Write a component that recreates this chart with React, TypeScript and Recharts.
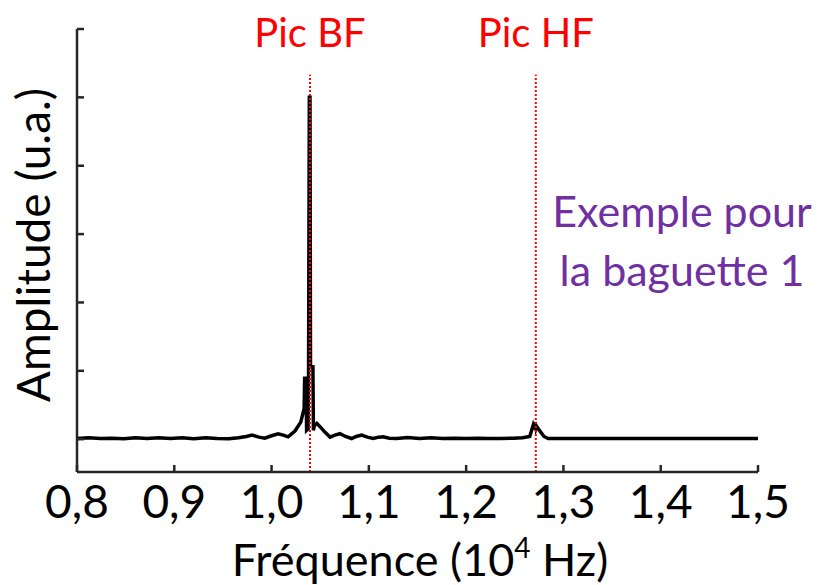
import { LineChart, Line, XAxis, YAxis, ReferenceLine } from 'recharts'

// Fréquence en 10^4 Hz
const freqs = [
  0.8, 0.812, 0.824, 0.836, 0.848, 0.86, 0.872, 0.884, 0.896, 0.908, 0.92, 0.932, 0.944, 0.956,
  0.966, 0.974, 0.98, 0.987, 0.993, 1.0, 1.0067, 1.012, 1.017, 1.024, 1.03, 1.0335, 1.034,
  1.0355, 1.036, 1.0375, 1.038, 1.0388, 1.0395, 1.04, 1.0425, 1.043, 1.044, 1.0465, 1.05,
  1.055, 1.0601, 1.065, 1.0703, 1.076, 1.0823, 1.087, 1.0926, 1.0985, 1.1045, 1.11, 1.1148,
  1.121, 1.1285, 1.14, 1.152, 1.164, 1.176, 1.188, 1.2, 1.212, 1.224, 1.236, 1.248, 1.258,
  1.2654, 1.2688, 1.27, 1.2709, 1.272, 1.2729, 1.2764, 1.28, 1.2842, 1.295, 1.32, 1.35, 1.38,
  1.41, 1.44, 1.47, 1.5,
]

// Amplitude (u.a.)
const amplitudes = [
  0.01, 0.02, 0.01, 0.015, 0.005, 0.02, 0.01, 0.02, 0.01, 0.02, 0.005, 0.02, 0.01, 0.005,
  0.02, 0.04, 0.06, 0.03, 0.015, 0.05, 0.08, 0.06, 0.035, 0.12, 0.25, 0.45, 0.89,
  0.89, 0.13, 0.15, 0.89, 5.0, 5.0, 1.06, 1.06, 0.13, 0.2, 0.23, 0.18,
  0.1, 0.03, 0.06, 0.08, 0.04, 0.01, 0.04, 0.06, 0.03, 0.01, 0.03, 0.035,
  0.015, 0.01, 0.025, 0.01, 0.02, 0.01, 0.015, 0.01, 0.015, 0.01, 0.01, 0.015, 0.02,
  0.04, 0.2, 0.14, 0.25, 0.15, 0.18, 0.11, 0.04, 0.01, 0.01, 0.01, 0.01, 0.01,
  0.01, 0.01, 0.01, 0.01,
]

const xTicks = [0.8, 0.9, 1.0, 1.1, 1.2, 1.3, 1.4, 1.5]
const yTicks = [0, 1, 2, 3, 4, 5, 6]

const picBF = 1.0395
const picHF = 1.2716

const data = freqs.map((f, i) => ({ f, a: amplitudes[i] }))

const FONT = 'Lato, sans-serif'
const AXIS = '#262626'

export default function App() {
  return (
    <div style={{ position: 'absolute', left: 0, top: 0, width: 818, height: 585, background: '#fff' }}>
      <LineChart width={818} height={585} data={data} margin={{ top: 29, right: 60, left: 0, bottom: 0 }}>
        <XAxis
          dataKey="f"
          type="number"
          domain={[0.8, 1.5]}
          ticks={xTicks}
          tickFormatter={(v) => v.toFixed(1).replace('.', ',')}
          tickSize={-7}
          tickMargin={20}
          height={113}
          stroke={AXIS}
          strokeWidth={2.5}
          tick={{ fontSize: 46, fill: '#000', fontFamily: FONT }}
          label={{
            content: () => (
              <text x={420} y={576} textAnchor="middle" fontSize={45} fontFamily={FONT} fill="#000">
                Fréquence (10<tspan fontSize={28} dy={-18}>4</tspan>
                <tspan dy={18}> Hz)</tspan>
              </text>
            ),
          }}
        />
        <YAxis
          type="number"
          domain={[-0.48, 6]}
          ticks={yTicks}
          width={77}
          tickSize={-7}
          tick={() => <g />}
          stroke={AXIS}
          strokeWidth={2.5}
          label={{
            content: () => (
              <text
                x={50}
                y={245}
                transform="rotate(-90 50 245)"
                textAnchor="middle"
                fontSize={46}
                fontFamily={FONT}
                fill="#000"
              >
                Amplitude (u.a.)
              </text>
            ),
          }}
        />
        <Line
          type="linear"
          dataKey="a"
          stroke="#000"
          strokeWidth={3.5}
          dot={false}
          isAnimationActive={false}
        />
        <ReferenceLine
          segment={[{ x: picBF, y: -0.48 }, { x: picBF, y: 5.33 }]}
          stroke="#ff0000"
          strokeWidth={2}
          strokeDasharray="2 2"
          label={{ value: 'Pic BF', position: 'top', offset: 28, fill: '#ff0000', fontSize: 40, fontFamily: FONT }}
        />
        <ReferenceLine
          segment={[{ x: picHF, y: -0.48 }, { x: picHF, y: 5.33 }]}
          stroke="#ff0000"
          strokeWidth={2}
          strokeDasharray="2 2"
          label={{ value: 'Pic HF', position: 'top', offset: 28, fill: '#ff0000', fontSize: 40, fontFamily: FONT }}
        />
      </LineChart>
      <svg width={818} height={585} style={{ position: 'absolute', left: 0, top: 0, pointerEvents: 'none' }}>
        <text x={682} y={227} textAnchor="middle" fontSize={43} fontFamily={FONT} fill="#7030a0">
          Exemple pour
        </text>
        <text x={682} y={286} textAnchor="middle" fontSize={43} fontFamily={FONT} fill="#7030a0">
          la baguette 1
        </text>
      </svg>
    </div>
  )
}
